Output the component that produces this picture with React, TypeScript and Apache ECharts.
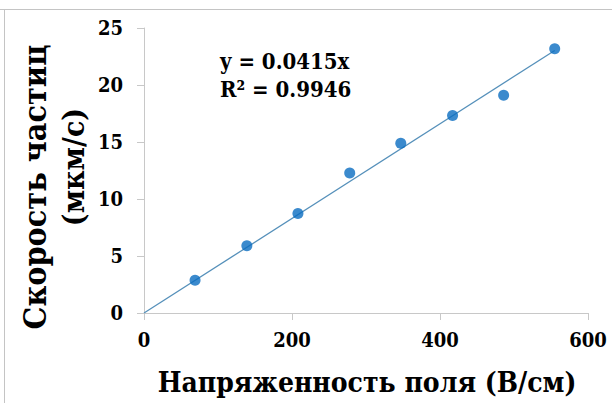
import React, { useEffect, useRef } from "react";
import * as echarts from "echarts";

const fieldX = [69, 139, 208, 278, 347, 417, 486, 555];
const speedY = [2.87, 5.89, 8.73, 12.28, 14.89, 17.32, 19.11, 23.18];
const trendX = [0, 555];
const trendY = [0, 23.03];
const xTicks = [0, 200, 400, 600];
const yTicks = [0, 5, 10, 15, 20, 25];
const eqLines = ["y = 0.0415x", "R² = 0.9946"];
const xTitle = "Напряженность поля (В/см)";
const yTitle1 = "Скорость частиц";
const yTitle2 = "(мкм/с)";

const FONT = "DejaVu Serif Condensed";

export default function App() {
  const ref = useRef<HTMLDivElement>(null);
  useEffect(() => {
    if (!ref.current) return;
    const chart = echarts.init(ref.current, undefined, { renderer: "svg" });
    const labelStyle = {
      fontFamily: FONT,
      fontWeight: "bold" as const,
      fontSize: 20,
      color: "#000",
    };
    const txt = (size: number) => ({
      fontFamily: FONT,
      fontWeight: "bold" as const,
      fontSize: size,
      fill: "#000",
    });
    chart.setOption({
      animation: false,
      backgroundColor: "#fff",
      grid: { left: 144, right: 24, top: 28, bottom: 90, containLabel: false },
      xAxis: {
        type: "value",
        min: xTicks[0],
        max: xTicks[xTicks.length - 1],
        interval: 200,
        axisLine: { show: true, lineStyle: { color: "#c8c8c8", width: 1 } },
        axisTick: { show: true, inside: false, length: 7, lineStyle: { color: "#c8c8c8" } },
        splitLine: { show: false },
        axisLabel: { ...labelStyle, margin: 17 },
      },
      yAxis: {
        type: "value",
        min: yTicks[0],
        max: yTicks[yTicks.length - 1],
        interval: 5,
        axisLine: { show: true, lineStyle: { color: "#c8c8c8", width: 1 } },
        axisTick: { show: true, inside: false, length: 7, lineStyle: { color: "#c8c8c8" } },
        splitLine: { show: false },
        axisLabel: { ...labelStyle, margin: 21 },
      },
      series: [
        {
          type: "line",
          data: trendX.map((x, i) => [x, trendY[i]]),
          showSymbol: false,
          symbol: "none",
          lineStyle: { color: "#5590ba", width: 1.3 },
          z: 2,
        },
        {
          type: "scatter",
          data: fieldX.map((x, i) => [x, speedY[i]]),
          symbol: "circle",
          symbolSize: 11,
          itemStyle: { color: "#0a6dc0" },
          z: 3,
        },
      ],
      graphic: [
        { type: "line", shape: { x1: 0, y1: 9.5, x2: 612, y2: 9.5 }, style: { stroke: "#c4c4c4", lineWidth: 1 } },
        { type: "line", shape: { x1: 4.5, y1: 9, x2: 4.5, y2: 403 }, style: { stroke: "#c4c4c4", lineWidth: 1 } },
        {
          type: "text",
          x: 220,
          y: 47,
          style: {
            ...txt(22),
            text: eqLines.join("\n"),
            lineHeight: 28,
          },
        },
        {
          type: "text",
          x: 367,
          y: 382,
          style: {
            ...txt(28),
            text: xTitle,
            align: "center",
            verticalAlign: "middle",
          },
        },
        {
          type: "text",
          x: 35,
          y: 187,
          rotation: Math.PI / 2,
          style: {
            ...txt(32),
            text: yTitle1,
            align: "center",
            verticalAlign: "middle",
          },
        },
        {
          type: "text",
          x: 73,
          y: 167,
          rotation: Math.PI / 2,
          style: {
            ...txt(30),
            text: yTitle2,
            align: "center",
            verticalAlign: "middle",
          },
        },
      ],
    });
    return () => chart.dispose();
  }, []);
  return (
    <div
      ref={ref}
      style={{ position: "fixed", left: 0, top: 0, width: 612, height: 403 }}
    />
  );
}
